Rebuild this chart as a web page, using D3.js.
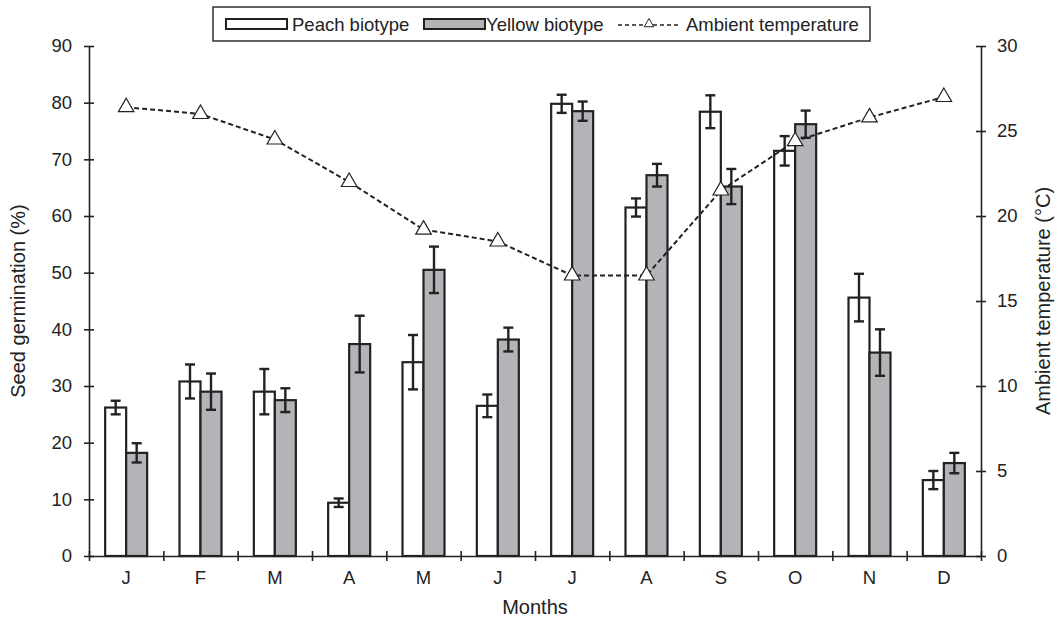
<!DOCTYPE html>
<html>
<head>
<meta charset="utf-8">
<script src="https://cdn.jsdelivr.net/npm/d3@7"></script>
<style>
  body { margin: 0; background: #fff; }
  svg { font-family: "Liberation Sans", Arial, sans-serif; }
  .axis path, .axis line { stroke: #222; stroke-width: 1.6; }
  .axis text { font-size: 18.5px; fill: #222; }
</style>
</head>
<body>
<script>
// month labels (x axis)
const months = ["J", "F", "M", "A", "M", "J", "J", "A", "S", "O", "N", "D"];

// seed germination (%) with standard errors
const peach    = [26.2, 30.8, 29.0, 9.4, 34.2, 26.5, 79.8, 61.5, 78.4, 71.5, 45.6, 13.4];
const peachErr = [1.2, 3.0, 4.0, 0.75, 4.8, 2.0, 1.6, 1.6, 2.9, 2.6, 4.2, 1.6];
const yellow    = [18.2, 29.0, 27.5, 37.4, 50.5, 38.2, 78.5, 67.2, 65.2, 76.2, 35.9, 16.4];
const yellowErr = [1.7, 3.2, 2.1, 5.0, 4.1, 2.1, 1.7, 2.0, 3.1, 2.4, 4.1, 1.8];

// ambient temperature (°C)
const temperature = [26.4, 26.0, 24.5, 22.0, 19.2, 18.5, 16.5, 16.5, 21.5, 24.4, 25.8, 27.0];

const leftTicks = [0, 10, 20, 30, 40, 50, 60, 70, 80, 90];
const rightTicks = [0, 5, 10, 15, 20, 25, 30];

const width = 1059, height = 623;
const margin = { left: 89, right: 78, top: 46, bottom: 67 };

const svg = d3.select("body").append("svg")
  .attr("width", width)
  .attr("height", height);

const x0 = d3.scaleBand()
  .domain(d3.range(months.length))
  .range([margin.left, width - margin.right]);

const x1 = d3.scaleBand()
  .domain(["peach", "yellow"])
  .range([0, x0.bandwidth()])
  .paddingOuter(0.77);

const xb = d3.scaleLinear().domain([0, 12]).range([margin.left, width - margin.right]);

const y = d3.scaleLinear().domain([0, 90]).range([height - margin.bottom, margin.top]);
const yT = d3.scaleLinear().domain([0, 30]).range([height - margin.bottom, margin.top]);

// bars
const series = [
  { key: "peach", vals: peach, errs: peachErr, fill: "#fff" },
  { key: "yellow", vals: yellow, errs: yellowErr, fill: "#b3b4b8" }
];

series.forEach(s => {
  svg.append("g").selectAll("rect")
    .data(s.vals)
    .enter()
    .append("rect")
    .attr("x", (d, i) => x0(i) + x1(s.key))
    .attr("y", d => y(d))
    .attr("width", x1.bandwidth())
    .attr("height", d => y(0) - y(d))
    .attr("fill", s.fill)
    .attr("stroke", "#222")
    .attr("stroke-width", 2.2);
});

// error bars
series.forEach(s => {
  const g = svg.append("g").attr("stroke", "#222").attr("stroke-width", 2.4);
  s.vals.forEach((v, i) => {
    const cx = x0(i) + x1(s.key) + x1.bandwidth() / 2;
    const hi = y(v + s.errs[i]), lo = y(v - s.errs[i]);
    g.append("line").attr("x1", cx).attr("x2", cx).attr("y1", hi).attr("y2", lo);
    g.append("line").attr("x1", cx - 5).attr("x2", cx + 5).attr("y1", hi).attr("y2", hi);
    g.append("line").attr("x1", cx - 5).attr("x2", cx + 5).attr("y1", lo).attr("y2", lo);
  });
});

// temperature line
const line = d3.line()
  .x((d, i) => x0(i) + x0.bandwidth() / 2)
  .y(d => yT(d));

svg.append("path")
  .datum(temperature)
  .attr("d", line)
  .attr("fill", "none")
  .attr("stroke", "#222")
  .attr("stroke-width", 2)
  .attr("stroke-dasharray", "5,3");

const tri = d3.symbol().type(d3.symbolTriangle).size(105);
svg.append("g").selectAll("path")
  .data(temperature)
  .enter()
  .append("path")
  .attr("d", tri)
  .attr("transform", (d, i) => `translate(${x0(i) + x0.bandwidth() / 2},${yT(d)})`)
  .attr("fill", "#fff")
  .attr("stroke", "#222")
  .attr("stroke-width", 1.2);

// axes
function crossTicks(g, horiz) {
  g.selectAll(".tick line")
    .attr(horiz ? "y1" : "x1", -5)
    .attr(horiz ? "y2" : "x2", 5);
}

svg.append("g")
  .attr("class", "axis")
  .attr("transform", `translate(${margin.left},0)`)
  .call(d3.axisLeft(y).tickValues(leftTicks).tickSizeOuter(0).tickPadding(11))
  .call(g => crossTicks(g, false));

svg.append("g")
  .attr("class", "axis")
  .attr("transform", `translate(${width - margin.right},0)`)
  .call(d3.axisRight(yT).tickValues(rightTicks).tickSizeOuter(0).tickPadding(10))
  .call(g => crossTicks(g, false));

svg.append("g")
  .attr("class", "axis")
  .attr("transform", `translate(0,${height - margin.bottom})`)
  .call(d3.axisBottom(xb).ticks(12).tickFormat("").tickSizeOuter(0))
  .call(g => crossTicks(g, true));

svg.append("g")
  .attr("class", "axis")
  .attr("transform", `translate(0,${height - margin.bottom})`)
  .call(d3.axisBottom(x0).tickSize(0).tickPadding(15).tickFormat(i => months[i]))
  .call(g => g.select(".domain").remove());

// axis titles
svg.append("text")
  .attr("x", (margin.left + width - margin.right) / 2)
  .attr("y", 614)
  .attr("text-anchor", "middle")
  .attr("font-size", 20)
  .attr("fill", "#222")
  .text("Months");

svg.append("text")
  .attr("transform", `translate(25,${y(45)}) rotate(-90)`)
  .attr("text-anchor", "middle")
  .attr("font-size", 20)
  .attr("fill", "#222")
  .text("Seed germination (%)");

svg.append("text")
  .attr("transform", `translate(1050,${y(45)}) rotate(-90)`)
  .attr("text-anchor", "middle")
  .attr("font-size", 20)
  .attr("fill", "#222")
  .text("Ambient temperature (°C)");

// legend
const lg = svg.append("g");
lg.append("rect")
  .attr("x", 213).attr("y", 7).attr("width", 657).attr("height", 34)
  .attr("fill", "#fff").attr("stroke", "#222").attr("stroke-width", 1.4);

lg.append("rect").attr("x", 226).attr("y", 19).attr("width", 61).attr("height", 10)
  .attr("fill", "#fff").attr("stroke", "#222").attr("stroke-width", 2);
lg.append("text").attr("x", 292).attr("y", 31).attr("font-size", 18.5).attr("fill", "#222")
  .text("Peach biotype");

lg.append("rect").attr("x", 424).attr("y", 19).attr("width", 61).attr("height", 10)
  .attr("fill", "#b3b4b8").attr("stroke", "#222").attr("stroke-width", 2);
lg.append("text").attr("x", 486).attr("y", 31).attr("font-size", 18.5).attr("fill", "#222")
  .text("Yellow biotype");

lg.append("line").attr("x1", 618).attr("x2", 681).attr("y1", 25).attr("y2", 25)
  .attr("stroke", "#222").attr("stroke-width", 1.6).attr("stroke-dasharray", "4,3");
lg.append("path")
  .attr("d", d3.symbol().type(d3.symbolTriangle).size(40))
  .attr("transform", "translate(649,24)")
  .attr("fill", "#fff").attr("stroke", "#222").attr("stroke-width", 1);
lg.append("text").attr("x", 686).attr("y", 31).attr("font-size", 18.5).attr("fill", "#222")
  .text("Ambient temperature");
</script>
</body>
</html>
